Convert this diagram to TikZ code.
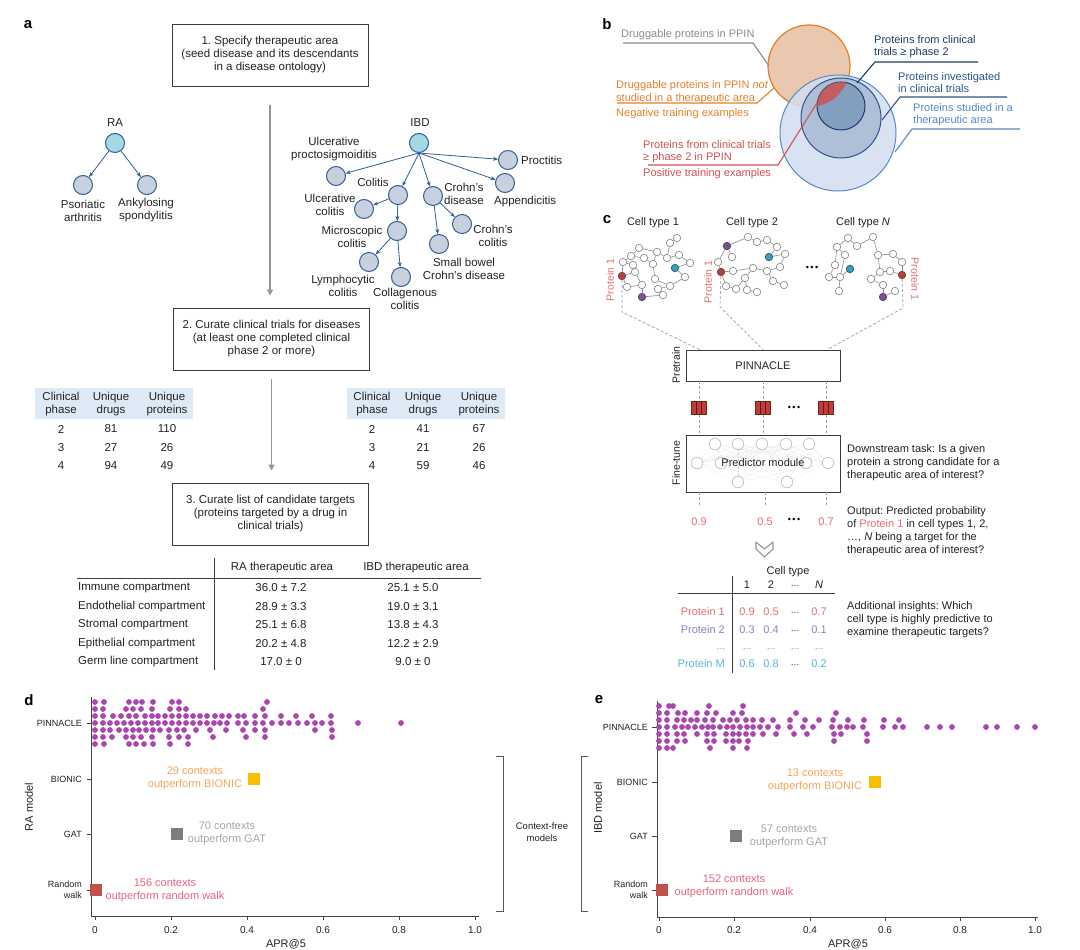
\documentclass[tikz,border=0pt]{standalone}
\usepackage{fontspec}
\setmainfont{Liberation Sans}
\usetikzlibrary{arrows.meta}
\frenchspacing

\definecolor{boxColor}{RGB}{60,60,60}
\definecolor{flowColor}{RGB}{150,150,150}
\definecolor{treeColor}{RGB}{50,95,150}
\definecolor{leafFill}{RGB}{200,208,222}
\definecolor{rootFill}{RGB}{165,215,228}
\definecolor{headFill}{RGB}{222,233,246}
\definecolor{textColor}{RGB}{35,35,35}
\definecolor{grayText}{RGB}{140,140,140}
\definecolor{orangeLine}{RGB}{228,128,40}
\definecolor{peachFill}{RGB}{234,200,176}
\definecolor{redLine}{RGB}{208,82,82}
\definecolor{navyLine}{RGB}{30,60,105}
\definecolor{midLine}{RGB}{45,85,140}
\definecolor{lightLine}{RGB}{88,136,198}
\definecolor{bigFill}{RGB}{210,222,240}
\definecolor{midFill}{RGB}{168,186,212}
\definecolor{smallFill}{RGB}{128,155,190}
\definecolor{netColor}{RGB}{140,140,140}
\definecolor{protRed}{RGB}{196,60,55}
\definecolor{protPurple}{RGB}{120,80,155}
\definecolor{protCyan}{RGB}{40,165,195}
\definecolor{labelRed}{RGB}{226,110,110}
\definecolor{labelPurple}{RGB}{150,125,195}
\definecolor{labelCyan}{RGB}{90,180,215}
\definecolor{dotColor}{RGB}{170,70,175}
\definecolor{bionicFill}{RGB}{250,190,0}
\definecolor{bionicText}{RGB}{246,165,90}
\definecolor{gatFill}{RGB}{125,125,125}
\definecolor{gatText}{RGB}{165,165,165}
\definecolor{walkFill}{RGB}{195,80,75}
\definecolor{walkText}{RGB}{232,98,125}

\tikzset{
  panel/.style={font=\fontsize{15}{15}\selectfont\bfseries,inner sep=0pt},
  txt/.style={font=\fontsize{11.5}{13}\selectfont,text=textColor,align=center,inner sep=0pt},
  btxt/.style={font=\fontsize{11}{12.5}\selectfont,anchor=west,align=left,inner sep=0pt},
  ctxt/.style={font=\fontsize{11}{13.2}\selectfont,text=textColor,align=left,inner sep=0pt,anchor=west},
  ticktxt/.style={font=\fontsize{9}{11}\selectfont,text=textColor,inner sep=0pt},
  numtxt/.style={font=\fontsize{10}{12}\selectfont,text=textColor,inner sep=0pt},
  axislab/.style={font=\fontsize{11}{13}\selectfont,text=textColor,inner sep=0pt},
  calltxt/.style={font=\fontsize{11}{13}\selectfont,align=center,inner sep=0pt},
  stepbox/.style={draw=boxColor,line width=0.9pt,minimum width=196pt,minimum height=62pt,txt},
  flowarrow/.style={draw=flowColor,line width=1.6pt,-{Triangle[length=6pt,width=6pt]}},
  leafnode/.style={circle,draw=treeColor,line width=1pt,fill=leafFill,minimum size=19pt,inner sep=0pt},
  rootnode/.style={leafnode,fill=rootFill},
  branchline/.style={draw=treeColor,line width=0.8pt,-{Stealth[length=5pt,width=4pt]}},
  tablerule/.style={draw=boxColor,line width=0.9pt},
  netnode/.style={circle,draw=netColor,fill=white,line width=0.7pt,minimum size=7.5pt,inner sep=0pt},
  hubnode/.style={netnode,draw=black!70,fill=#1},
  netedge/.style={draw=netColor,line width=0.6pt},
  dashlink/.style={draw=gray!75,line width=0.7pt,dash pattern=on 3pt off 2pt},
  stagebox/.style={draw=boxColor,line width=0.9pt,minimum width=154pt,inner sep=0pt,font=\fontsize{11}{13}\selectfont,text=textColor},
  sidelab/.style={rotate=90,font=\fontsize{10.5}{12}\selectfont,text=textColor,inner sep=0pt},
  protlab/.style={font=\fontsize{10.5}{12}\selectfont,text=labelRed,inner sep=0pt},
  embedbox/.style={draw=protRed!55!black,fill=protRed,line width=0.7pt,minimum width=15pt,minimum height=13pt,inner sep=0pt,
    path picture={\draw[protRed!45!black,line width=0.7pt]
      ([xshift=5pt]path picture bounding box.south west) -- ([xshift=5pt]path picture bounding box.north west)
      ([xshift=10pt]path picture bounding box.south west) -- ([xshift=10pt]path picture bounding box.north west);}},
  ghost/.style={circle,draw=gray!45,fill=white,line width=0.8pt,minimum size=11.5pt,inner sep=0pt},
  ghostline/.style={draw=gray!35,line width=0.4pt,densely dotted},
  ellip/.style={font=\fontsize{9}{9}\selectfont,inner sep=0pt},
  leaderline/.style={line width=1.1pt},
  plotaxis/.style={draw=textColor!85,line width=0.8pt},
  swarmdot/.style={fill=dotColor},
  scoremark/.style={minimum size=12pt,inner sep=0pt},
  bracketline/.style={draw=gray!70!black,line width=0.9pt},
}

\begin{document}
\begin{tikzpicture}[x=1pt,y=-1pt]
\path[use as bounding box,fill=white] (0,0) rectangle (1080,950);

\node[panel] (panA) at (28,25) {a};

\node[stepbox] (stepA) at (270,55) {1. Specify therapeutic area\\(seed disease and its descendants\\in a disease ontology)};
\node[stepbox] (stepB) at (271.5,339) {2. Curate clinical trials for diseases\\(at least one completed clinical\\phase 2 or more)};
\node[stepbox] (stepC) at (270.5,514) {3. Curate list of candidate targets\\(proteins targeted by a drug in\\clinical trials)};

\draw[flowarrow,shorten <=19pt,shorten >=12pt] (stepA.south) -- (stepA.south |- stepB.north);
\draw[flowarrow,shorten <=9pt,shorten >=12pt] (stepB.south) -- (stepB.south |- stepC.north);

\node[txt] (raName) at (115,123) {RA};
\node[rootnode] (ra) at (115,143) {};
\node[leafnode] (psa) at (83,185) {};
\node[leafnode] (ank) at (147,185) {};
\node[txt] (psaName) at (83,210.5) {Psoriatic\\arthritis};
\node[txt] (ankName) at (146,210.5) {Ankylosing\\spondylitis};
\draw[branchline] (ra) -- (psa);
\draw[branchline] (ra) -- (ank);

\node[txt] (ibdName) at (420,123) {IBD};
\node[rootnode] (ibd) at (419,143) {};
\node[leafnode] (upr) at (336,176) {};
\node[leafnode] (col) at (398,195) {};
\node[leafnode] (crd) at (433,196) {};
\node[leafnode] (pro) at (508,160) {};
\node[leafnode] (app) at (505,183) {};
\node[leafnode] (ucl) at (364,209) {};
\node[leafnode] (mic) at (397,231) {};
\node[leafnode] (lym) at (369,262) {};
\node[leafnode] (clg) at (401,277) {};
\node[leafnode] (ccl) at (462,224) {};
\node[leafnode] (sbc) at (439,244) {};

\node[txt] (uprName) at (334,149.5) {Ulcerative\\proctosigmoiditis};
\node[txt] (colName) at (373,182) {Colitis};
\node[txt] (crdName) at (464,194) {Crohn’s\\disease};
\node[txt,anchor=west] (proName) at (521,160) {Proctitis};
\node[txt,anchor=west] (appName) at (494,202) {Appendicitis};
\node[txt] (uclName) at (330,204.5) {Ulcerative\\colitis};
\node[txt] (micName) at (352,237) {Microscopic\\colitis};
\node[txt] (lymName) at (343,285.5) {Lymphocytic\\colitis};
\node[txt] (clgName) at (405,299) {Collagenous\\colitis};
\node[txt] (cclName) at (493,235.5) {Crohn’s\\colitis};
\node[txt] (sbcName) at (464,268.5) {Small bowel\\Crohn’s disease};

\draw[branchline] (ibd.south) -- (upr);
\draw[branchline] (ibd.south) -- (col);
\draw[branchline] (ibd.south) -- (crd);
\draw[branchline] (ibd.south) -- (pro);
\draw[branchline] (ibd.south) -- (app);
\draw[branchline] (col) -- (ucl);
\draw[branchline] (col) -- (mic);
\draw[branchline] (mic) -- (lym);
\draw[branchline] (mic) -- (clg);
\draw[branchline] (crd) -- (ccl);
\draw[branchline] (crd) -- (sbc);

\fill[headFill] (35,388) rectangle (193,419);
\node[txt] (raPhase) at (61,404.5) {Clinical\\phase};
\node[txt] (raDrugs) at (111,404.5) {Unique\\drugs};
\node[txt] (raProts) at (167,404.5) {Unique\\proteins};
\foreach \p/\d/\q [count=\i] in {2/81/110,3/27/26,4/94/49} {
  \node[txt] (raPh\i) at (61,{410.5+18.5*\i}) {\p};
  \node[txt] (raDr\i) at (111,{410.5+18.5*\i}) {\d};
  \node[txt] (raPr\i) at (167,{410.5+18.5*\i}) {\q};
}

\fill[headFill] (347,388) rectangle (505,419);
\node[txt] (ibdPhase) at (372,404.5) {Clinical\\phase};
\node[txt] (ibdDrugs) at (423,404.5) {Unique\\drugs};
\node[txt] (ibdProts) at (479,404.5) {Unique\\proteins};
\foreach \p/\d/\q [count=\i] in {2/41/67,3/21/26,4/59/46} {
  \node[txt] (ibdPh\i) at (372,{410.5+18.5*\i}) {\p};
  \node[txt] (ibdDr\i) at (423,{410.5+18.5*\i}) {\d};
  \node[txt] (ibdPr\i) at (479,{410.5+18.5*\i}) {\q};
}

\draw[tablerule] (214,558) -- (214,670);
\draw[tablerule] (77,578) -- (481,578);
\node[txt] (raArea) at (282,568) {RA therapeutic area};
\node[txt] (ibdArea) at (416,568) {IBD therapeutic area};
\foreach \c/\r/\b [count=\i] in {Immune compartment/36.0 ± 7.2/25.1 ± 5.0,Endothelial compartment/28.9 ± 3.3/19.0 ± 3.1,Stromal compartment/25.1 ± 6.8/13.8 ± 4.3,Epithelial compartment/20.2 ± 4.8/12.2 ± 2.9,Germ line compartment/17.0 ± 0/9.0 ± 0} {
  \node[txt,anchor=west] (comp\i) at (78,{569.5+18.5*\i}) {\c};
  \node[txt] (compRA\i) at (281,{569.5+18.5*\i}) {\r};
  \node[txt] (compIBD\i) at (413,{569.5+18.5*\i}) {\b};
}

\node[panel] (panB) at (607,24) {b};
\path[fill=peachFill,draw=orangeLine,line width=1.2pt] (809,66) circle (41pt);
\path[fill=bigFill,fill opacity=0.85,draw=lightLine,line width=1pt] (838,133) circle (58pt);
\path[fill=midFill,fill opacity=0.85,draw=midLine,line width=1pt] (841,118) circle (40pt);
\path[fill=smallFill,fill opacity=0.9,draw=navyLine,line width=1pt] (841,106) circle (24pt);
\begin{scope}
\clip (809,66) circle (41pt);
\path[fill=redLine,fill opacity=0.85] (841,106) circle (24pt);
\end{scope}

\node[btxt,text=grayText] (druggable) at (621,35) {Druggable proteins in PPIN};
\draw[leaderline,draw=grayText] (623,43) -- (753,43) -- (769,66);
\node[btxt,text=orangeLine] (notStudied) at (616,92) {Druggable proteins in PPIN \textit{not}\\studied in a therapeutic area};
\draw[leaderline,draw=orangeLine] (617,103) -- (757,103) -- (774,88);
\node[btxt,text=orangeLine] (negative) at (616,114) {Negative training examples};
\node[btxt,text=redLine] (fromTrials) at (643,151.5) {Proteins from clinical trials\\≥ phase 2 in PPIN};
\draw[leaderline,draw=redLine] (648,165) -- (778,165) -- (817,103);
\node[btxt,text=redLine] (positive) at (643,174) {Positive training examples};
\node[btxt,text=navyLine] (phaseTwo) at (874,46.5) {Proteins from clinical\\trials ≥ phase 2};
\draw[leaderline,draw=navyLine] (978,62) -- (875,62) -- (857,83);
\node[btxt,text=midLine] (investigated) at (898,82.5) {Proteins investigated\\in clinical trials};
\draw[leaderline,draw=midLine] (1007,97) -- (900,97) -- (882,120);
\node[btxt,text=lightLine] (studied) at (913,114.5) {Proteins studied in a\\therapeutic area};
\draw[leaderline,draw=lightLine] (1020,129) -- (912,129) -- (895,152);

\node[panel] (panC) at (607,220) {c};
\node[ctxt,anchor=center] (typeOne) at (653,223) {Cell type 1};
\node[ctxt,anchor=center] (typeTwo) at (752,223) {Cell type 2};
\node[ctxt,anchor=center] (typeN) at (863,223) {Cell type \textit{N}};

\foreach \i/\x/\y in {1/677/238,2/670/243,3/639/248,4/657/252,5/631/256,6/644/258,7/667/258,8/679/255,9/690/263,10/623/262,11/633/265,12/653/264,14/685/277,16/635/272,17/655/279,18/627/287,19/642/285,20/658/289,21/670/286,22/663/295}
  \node[netnode] (a\i) at (\x,\y) {};
\node[hubnode=protCyan] (a13) at (675,268) {};
\node[hubnode=protRed] (a15) at (622,276) {};
\node[hubnode=protPurple] (a23) at (642,297) {};
\foreach \s/\t in {1/2,2/7,7/8,8/9,3/4,4/7,3/5,5/10,10/15,5/6,6/12,12/17,10/11,11/16,15/16,15/18,18/19,16/19,19/23,23/22,22/20,20/21,21/14,13/14,13/9,17/21,12/4}
  \draw[netedge] (a\s) -- (a\t);

\foreach \i/\x/\y in {2/748/237,3/757/242,4/767/240,5/777/247,7/785/254,8/780/267,9/767/271,10/753/268,11/745/278,12/747/290,13/757/292,14/773/281,15/784/285,16/732/257,17/718/262,19/733/271,20/726/286,21/736/289}
  \node[netnode] (b\i) at (\x,\y) {};
\node[hubnode=protPurple] (b1) at (727,246) {};
\node[hubnode=protCyan] (b6) at (769,257) {};
\node[hubnode=protRed] (b18) at (721,272) {};
\foreach \s/\t in {1/2,2/3,3/4,4/5,1/17,1/16,17/18,18/19,18/20,20/21,21/11,11/10,10/9,9/8,8/7,6/5,6/7,9/14,14/15,11/12,12/13,19/10}
  \draw[netedge] (b\s) -- (b\t);

\node[ellip] (moreTypes) at (812,268) {\textbullet\,\textbullet\,\textbullet};

\foreach \i/\x/\y in {1/848/238,2/857/246,3/873/237,4/837/247,5/845/255,6/835/265,7/829/277,8/840/277,10/839/291,11/878/255,12/893/254,13/902/262,14/890/271,15/880/272,16/871/279,17/883/285,20/895/291}
  \node[netnode] (n\i) at (\x,\y) {};
\node[hubnode=protCyan] (n9) at (850,269) {};
\node[hubnode=protRed] (n18) at (902,275) {};
\node[hubnode=protPurple] (n19) at (883,297) {};
\foreach \s/\t in {1/2,2/3,3/11,1/4,4/5,4/6,6/7,7/8,8/9,8/10,5/8,11/12,12/13,13/18,18/14,14/15,15/16,16/17,17/19,19/20,11/15}
  \draw[netedge] (n\s) -- (n\t);

\node[protlab,rotate=90] (protA) at (610,280) {Protein 1};
\node[protlab,rotate=90] (protB) at (708,282) {Protein 1};
\node[protlab,rotate=-90] (protN) at (915,279) {Protein 1};

\node[stagebox,minimum height=31pt] (pinn) at (763,365.5) {PINNACLE};
\node[sidelab] (pretrain) at (676,365) {Pretrain};
\draw[dashlink] (a15) -- (622,312) -- ([xshift=14pt]pinn.north west);
\draw[dashlink] (b18) -- (720,307) -- (pinn.north);
\draw[dashlink] (n18) -- (903,308) -- ([xshift=-13pt]pinn.north east);

\node[stagebox,minimum height=57pt] (tune) at (763,463.5) {};
\node[sidelab] (finetune) at (676,463) {Fine-tune};

\node[embedbox] (emb1) at (699,408) {};
\node[embedbox] (emb2) at (763,408) {};
\node[embedbox] (emb3) at (826,408) {};
\node[ellip] (embMore) at (794,408) {\textbullet\,\textbullet\,\textbullet};
\foreach \e in {emb1,emb2,emb3} {
  \draw[dashlink] (\e |- pinn.south) -- (\e);
  \draw[dashlink] (\e) -- (\e |- tune.north);
}

\foreach \i/\x/\y in {1/715/444,2/738/444,3/762/444,4/786/444,5/809/444,6/697/463,7/721/463,8/806/463,9/828/463,10/738/482,11/787/482}
  \node[ghost] (g\i) at (\x,\y) {};
\foreach \s in {1,...,5} {
  \foreach \t in {6,7,8,9,10,11}
    \draw[ghostline] (g\s) -- (g\t);
}
\foreach \t in {10,11} {
  \draw[ghostline] (g6) -- (g\t);
  \draw[ghostline] (g9) -- (g\t);
}
\node[ctxt,anchor=center] (predictor) at (763,463) {Predictor module};

\node[ctxt,anchor=center,text=labelRed] (out1) at (699,522) {0.9};
\node[ctxt,anchor=center,text=labelRed] (out2) at (765,522) {0.5};
\node[ctxt,anchor=center,text=labelRed] (out3) at (826,522) {0.7};
\node[ellip] (outMore) at (794,520) {\textbullet\,\textbullet\,\textbullet};
\foreach \o in {out1,out2,out3}
  \draw[dashlink] (\o |- tune.south) -- ++(0,13);

\path[draw=flowColor,line width=1.1pt,fill=white,line join=round] (756,542) -- (764.5,549) -- (773,542) -- (773,549) -- (764.5,557) -- (756,549) -- cycle;

\node[ctxt] (downstream) at (847,462.5) {Downstream task: Is a given\\protein a strong candidate for a\\therapeutic area of interest?};
\node[ctxt] (outputTxt) at (847,531) {Output: Predicted probability\\of \textcolor{labelRed}{Protein 1} in cell types 1, 2,\\…, \textit{N} being a target for the\\therapeutic area of interest?};
\node[ctxt] (insights) at (847,619.5) {Additional insights: Which\\cell type is highly predictive to\\examine therapeutic targets?};

\node[ctxt,anchor=center] (cellType) at (788,572) {Cell type};
\node[ctxt,anchor=center] (colOne) at (747,585) {1};
\node[ctxt,anchor=center] (colTwo) at (771,585) {2};
\node[ellip,text=textColor] (colDots) at (795,586) {…};
\node[ctxt,anchor=center] (colN) at (819,585) {\textit{N}};
\draw[tablerule] (678,593) -- (835,593);
\draw[tablerule] (732,576) -- (732,673);
\foreach \lab/\c/\u/\v/\w/\y [count=\i] in {Protein 1/labelRed/0.9/0.5/0.7/612,Protein 2/labelPurple/0.3/0.4/0.1/630,Protein M/labelCyan/0.6/0.8/0.2/664} {
  \node[ctxt,anchor=east,text=\c] (rowName\i) at (725,\y) {\lab};
  \node[ctxt,anchor=center,text=\c] (rowOne\i) at (747,\y) {\u};
  \node[ctxt,anchor=center,text=\c] (rowTwo\i) at (771,\y) {\v};
  \node[ellip,text=textColor] (rowDots\i) at (795,\y+1) {…};
  \node[ctxt,anchor=center,text=\c] (rowN\i) at (819,\y) {\w};
}
\foreach \x [count=\i] in {721,747,771,795,819}
  \node[ellip,text=gray] (gapRow\i) at (\x,649) {…};

\node[panel] (panD) at (29,700) {d};
\draw[plotaxis] (91,697) -- (91,916) -- (479,916);
\foreach \x/\lab in {95/0,171/0.2,247/0.4,323/0.6,399/0.8,475/1.0} {
  \draw[plotaxis] (\x,916) -- (\x,920);
  \node[numtxt] (dTick\x) at (\x,930) {\lab};
}
\foreach \y/\lab in {723/PINNACLE,779/BIONIC,834/GAT,890/{}} {
  \draw[plotaxis] (87,\y) -- (91,\y);
  \node[ticktxt,anchor=east] (dCat\y) at (82,\y) {\lab};
}
\node[ticktxt,anchor=east,align=right] (dWalk) at (82,890) {Random\\walk};
\node[axislab] (dAxis) at (286,944) {APR@5};
\node[axislab,rotate=90] (dModel) at (29,807) {RA model};

\foreach \x in {95,104,129,136,142,153,172,179,267} \fill[swarmdot] (\x,702) circle (2.9pt);
\foreach \x in {95,103,126,133,141,152,170,179,186,263} \fill[swarmdot] (\x,709) circle (2.9pt);
\foreach \x in {95,103,113,121,129,136,145,152,158,165,172,179,186,193,200,207,215,222,229,238,244,255,265,281,296,312,331} \fill[swarmdot] (\x,716) circle (2.9pt);
\foreach \x in {95,103,110,117,124,131,138,145,152,158,165,172,179,186,193,200,207,214,220,227,238,246,255,263,272,281,289,298,307,315,322,331,358,401} \fill[swarmdot] (\x,723) circle (2.9pt);
\foreach \x in {95,103,110,119,126,133,139,146,153,160,169,177,184,196,210,226,243,255,265,315,332} \fill[swarmdot] (\x,730) circle (2.9pt);
\foreach \x in {95,103,112,126,133,141,152,169,179,188,213,246,265,332} \fill[swarmdot] (\x,737) circle (2.9pt);
\foreach \x in {95,104,129,136,144,153,170,188} \fill[swarmdot] (\x,744) circle (2.9pt);

\node[scoremark,fill=bionicFill] (dBionic) at (254,779) {};
\node[calltxt,text=bionicText] (dBionicTxt) at (195,778.5) {29 contexts\\outperform BIONIC};
\node[scoremark,fill=gatFill] (dGat) at (177,834) {};
\node[calltxt,text=gatText] (dGatTxt) at (227,833.5) {70 contexts\\outperform GAT};
\node[scoremark,fill=walkFill] (dWalkMark) at (96,890) {};
\node[calltxt,text=walkText] (dWalkTxt) at (165,890.5) {156 contexts\\outperform random walk};

\draw[bracketline] (496,756) -- (503,756) -- (503,911) -- (496,911);
\node[ticktxt,align=center,font=\fontsize{9.5}{12}\selectfont] (ctxFree) at (542,832) {Context-free\\models};
\draw[bracketline] (588,756) -- (581,756) -- (581,911) -- (588,911);

\node[panel] (panE) at (599,700) {e};
\draw[plotaxis] (657,701) -- (657,917) -- (1038,917);
\foreach \x/\lab in {659/0,734/0.2,810/0.4,885/0.6,960/0.8,1035/1.0} {
  \draw[plotaxis] (\x,917) -- (\x,921);
  \node[numtxt] (eTick\x) at (\x,930) {\lab};
}
\foreach \y/\lab in {727/PINNACLE,782/BIONIC,836/GAT,890/{}} {
  \draw[plotaxis] (652,\y) -- (657,\y);
  \node[ticktxt,anchor=east] (eCat\y) at (648,\y) {\lab};
}
\node[ticktxt,anchor=east,align=right] (eWalk) at (648,890) {Random\\walk};
\node[axislab] (eAxis) at (848,944) {APR@5};
\node[axislab,rotate=90] (eModel) at (598,808) {IBD model};

\foreach \x in {659,669,673,709,743} \fill[swarmdot] (\x,706) circle (2.9pt);
\foreach \x in {659,667,678,685,697,707,716,733,742,796,836} \fill[swarmdot] (\x,713) circle (2.9pt);
\foreach \x in {659,667,677,684,691,697,705,713,723,730,737,746,753,762,773,790,805,819,833,848,864,884,899} \fill[swarmdot] (\x,720) circle (2.9pt);
\foreach \x in {659,667,675,682,688,695,702,708,713,720,727,733,740,747,753,760,768,778,790,803,813,832,840,847,853,863,883,895,903,927,940,952,986,997,1017,1035} \fill[swarmdot] (\x,727) circle (2.9pt);
\foreach \x in {659,667,677,684,697,707,714,726,733,739,746,753,763,776,794,807,834,841,867} \fill[swarmdot] (\x,734) circle (2.9pt);
\foreach \x in {659,667,677,685,707,714,726,733,739,748,834,867} \fill[swarmdot] (\x,741) circle (2.9pt);
\foreach \x in {659,667,673,710,733,747} \fill[swarmdot] (\x,748) circle (2.9pt);

\node[scoremark,fill=bionicFill] (eBionic) at (875,782) {};
\node[calltxt,text=bionicText] (eBionicTxt) at (815,780) {13 contexts\\outperform BIONIC};
\node[scoremark,fill=gatFill] (eGat) at (736,836) {};
\node[calltxt,text=gatText] (eGatTxt) at (789,836) {57 contexts\\outperform GAT};
\node[scoremark,fill=walkFill] (eWalkMark) at (662,890) {};
\node[calltxt,text=walkText] (eWalkTxt) at (734,886.5) {152 contexts\\outperform random walk};
\end{tikzpicture}
\end{document}
